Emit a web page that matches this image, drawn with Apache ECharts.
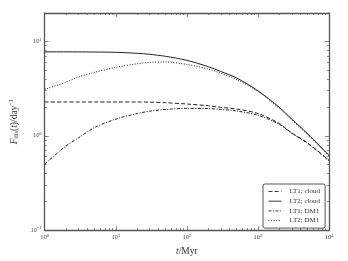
<!DOCTYPE html>
<html><head><meta charset="utf-8">
<script src="https://cdn.jsdelivr.net/npm/echarts@6/dist/echarts.min.js"></script>
<style>html,body{margin:0;padding:0;background:#fff}#c{width:348px;height:261px}</style>
</head><body><div id="c"></div>
<script>
const times = [1, 2, 3, 5, 10, 20, 30, 50, 100, 200, 300, 500, 1000, 2000, 3000, 5000, 10000];
const lt1Cloud = [2.28, 2.28, 2.28, 2.28, 2.28, 2.28, 2.27, 2.24, 2.17, 2.08, 2.0, 1.92, 1.72, 1.35, 1.07, 0.84, 0.55];
const lt2Cloud = [7.75, 7.75, 7.74, 7.72, 7.66, 7.48, 7.3, 6.95, 6.3, 5.4, 4.8, 4.1, 3.0, 2.0, 1.5, 1.05, 0.62];
const lt1DM1 = [0.5, 0.78, 0.95, 1.22, 1.5, 1.72, 1.82, 1.9, 1.95, 1.94, 1.9, 1.83, 1.65, 1.32, 1.06, 0.83, 0.54];
const lt2DM1 = [3.1, 3.7, 4.2, 4.7, 5.3, 5.8, 6.0, 6.05, 5.7, 5.1, 4.6, 3.95, 2.95, 1.95, 1.47, 1.03, 0.61];
const names = ['LT1; cloud', 'LT2; cloud', 'LT1; DM1', 'LT2; DM1'];
const xMajor = [1, 10, 100, 1000, 10000];
const yMajor = [0.1, 1, 10];

function minors(lo, hi) {
  const out = [];
  for (let d = lo; d < hi; d *= 10) for (let k = 2; k <= 9; k++) if (d * k < hi * 1.0001) out.push(d * k);
  return out;
}
const xMinor = minors(1, 10000);
const yMinor = minors(0.1, 20);

const FONT = 'Liberation Serif, DejaVu Serif, serif';
const AX = '#555';
function powLabel(v) {
  const e = Math.round(Math.log10(v));
  return '{b|10}{s|' + (e < 0 ? '\u2212' + (-e) : e) + '}';
}
const labelRich = {
  b: { fontSize: 6.5, fontFamily: FONT, color: '#444' },
  s: { fontSize: 4.5, fontFamily: FONT, color: '#444', padding: [0, 0, 4, 0] }
};
function axis(kind, pos, major, isMajor, show) {
  return {
    type: 'log', logBase: 10, position: pos,
    min: kind === 'x' ? 1 : 0.1, max: kind === 'x' ? 10000 : 20,
    axisLine: { show: show, lineStyle: { color: AX, width: 1.3 } },
    axisTick: { show: true, inside: true, length: isMajor ? 4 : 2, customValues: major,
      lineStyle: { color: AX, width: 0.7 } },
    axisLabel: { show: false },
    splitLine: { show: false },
    minorTick: { show: false }
  };
}
const xAxes = [
  axis('x', 'bottom', xMajor, true, true),
  axis('x', 'bottom', xMinor, false, false),
  axis('x', 'top', xMajor, true, true),
  axis('x', 'top', xMinor, false, false)
];
xAxes[0].axisLabel = { show: true, customValues: xMajor, formatter: powLabel, rich: labelRich, margin: 3 };
xAxes[0].name = '{i|t}{n|/Myr}';
xAxes[0].nameLocation = 'middle';
xAxes[0].nameGap = 15;
xAxes[0].nameTextStyle = { rich: { i: { fontSize: 9.5, fontStyle: 'italic', fontFamily: FONT, color: '#333' }, n: { fontSize: 9.5, fontFamily: FONT, color: '#333' } } };

const yAxes = [
  axis('y', 'left', yMajor, true, true),
  axis('y', 'left', yMinor, false, false),
  axis('y', 'right', yMajor, true, true),
  axis('y', 'right', yMinor, false, false)
];
yAxes[0].axisLabel = { show: true, customValues: yMajor, formatter: powLabel, rich: labelRich, margin: 3 };
yAxes[0].name = '{i|F}{sub|dis}{n|(}{i|t}{n|)/day}{sup|\u22121}';
yAxes[0].nameLocation = 'middle';
yAxes[0].nameRotate = 90;
yAxes[0].nameGap = 24;
yAxes[0].nameTextStyle = { rich: {
  i: { fontSize: 9.5, fontStyle: 'italic', fontFamily: FONT, color: '#333' },
  n: { fontSize: 9.5, fontFamily: FONT, color: '#333' },
  sub: { fontSize: 6.5, fontFamily: FONT, color: '#333', padding: [4, 0, 0, 0] },
  sup: { fontSize: 6.5, fontFamily: FONT, color: '#333', padding: [0, 0, 5, 0] }
} };

function pairs(vals) { return times.map((t, i) => [t, vals[i]]); }
const styles = [
  { type: [4, 2.2], width: 1 },
  { type: 'solid', width: 1 },
  { type: [3, 1.5, 1, 1.5], width: 1 },
  { type: [1, 1.6], width: 1 }
];
const datas = [lt1Cloud, lt2Cloud, lt1DM1, lt2DM1];
const series = names.map((n, i) => ({
  name: n, type: 'line', smooth: 0.3, showSymbol: false, symbol: 'none',
  xAxisIndex: 0, yAxisIndex: 0,
  data: pairs(datas[i]),
  lineStyle: Object.assign({ color: '#222' }, styles[i]),
  itemStyle: { color: '#222' },
  emphasis: { disabled: true }
}));

const chart = echarts.init(document.getElementById('c'), null, { renderer: 'canvas' });
chart.setOption({
  animation: false,
  backgroundColor: '#fff',
  grid: { left: 35, right: 19, top: 13, bottom: 28 },
  xAxis: xAxes,
  yAxis: yAxes,
  legend: {
    data: names, orient: 'vertical', left: 263, top: 184,
    itemWidth: 13, itemHeight: 8, itemGap: 2.7,
    padding: [4, 5, 4, 5],
    borderColor: AX, borderWidth: 1, borderRadius: 2,
    backgroundColor: '#fff',
    itemStyle: { color: 'rgba(0,0,0,0)', borderWidth: 0, opacity: 0 },
    lineStyle: { width: 0.9 },
    textStyle: { fontSize: 7, fontFamily: FONT, color: '#333', padding: [0, 0, 0, 3] }
  },
  series: series
});
</script></body></html>
